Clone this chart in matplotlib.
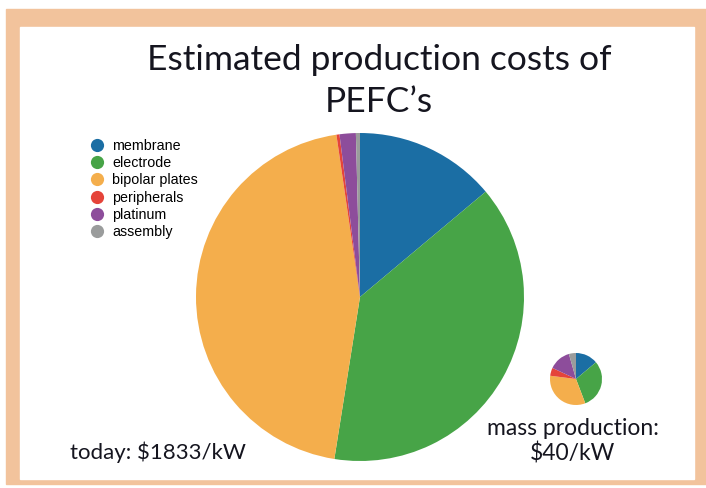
import matplotlib.pyplot as plt
from matplotlib.patches import Rectangle

# cost shares (%) of each component
components = ['membrane', 'electrode', 'bipolar plates', 'peripherals', 'platinum', 'assembly']
colors = ['#1b6ea4', '#47a447', '#f4ae4c', '#e5443a', '#8d4d9b', '#9a9c9c']
today_share = [13.9, 38.6, 45.2, 0.3, 1.6, 0.4]
mass_share = [13.9, 30.3, 32.8, 5.0, 13.6, 4.4]

title_lines = ['Estimated production costs of', 'PEFC\u2019s']
today_label = 'today: $1833/kW'
mass_lines = ['mass production:', '$40/kW']

W, H = 706, 489
fig = plt.figure(figsize=(W / 100, H / 100), dpi=100)
ax = fig.add_axes([0, 0, 1, 1])

# peach frame with white panel inside
ax.add_patch(Rectangle((6, H - 485), 700, 475, color='#f2c39c', zorder=0))
ax.add_patch(Rectangle((20, H - 480), 674, 452, color='white', zorder=1))

# big pie = today, small pie = mass production
ax.pie(today_share, colors=colors, startangle=90, counterclock=False,
       center=(360, H - 298), radius=164, wedgeprops=dict(linewidth=0, zorder=2))
ax.pie(mass_share, colors=colors, startangle=90, counterclock=False,
       center=(576, H - 380), radius=26, wedgeprops=dict(linewidth=0, zorder=2))

ax.set_xlim(0, W)
ax.set_ylim(0, H)
ax.set_aspect('auto')
ax.axis('off')

# legend, drawn by hand
for i, (name, c) in enumerate(zip(components, colors)):
    y = H - (146 + i * 17.2)
    ax.plot(97, y, 'o', color=c, markersize=9.5, markeredgewidth=0, zorder=3)
    ax.text(112, y, name, fontsize=10.3, family='Liberation Sans', va='center',
            ha='left', color='black', zorder=3)

txt = dict(family='Lato', color='#15151f', zorder=3, va='baseline')
ax.text(379, H - 70, title_lines[0], fontsize=25.5, ha='center', **txt)
ax.text(379, H - 112, title_lines[1], fontsize=25.5, ha='center', **txt)

ax.text(70, H - 459, today_label, fontsize=16, ha='left', **txt)
ax.text(573, H - 435, mass_lines[0], fontsize=16.5, ha='center', **txt)
ax.text(573, H - 461, mass_lines[1], fontsize=16.5, ha='center', **txt)

plt.savefig('out.png', dpi=100)
